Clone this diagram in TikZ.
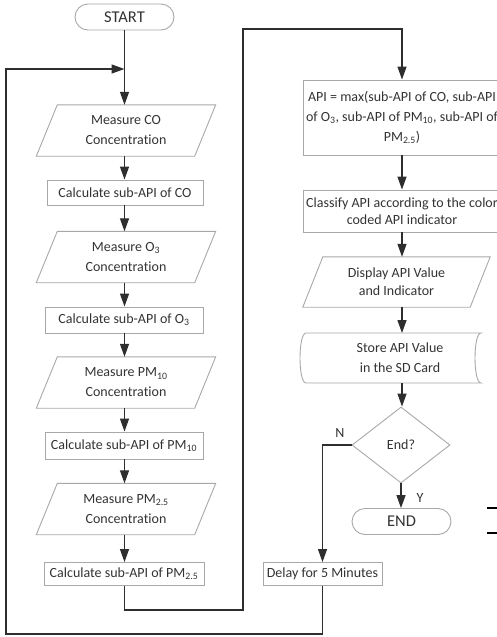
\documentclass[tikz,border=0pt]{standalone}
\usepackage{fontspec}
\setmainfont{Carlito}[Ligatures={CommonOff}]
\usetikzlibrary{arrows.meta,shapes.geometric,calc}

\definecolor{linecol}{HTML}{2E2E2E}
\definecolor{boxcol}{HTML}{A8A8A8}
\definecolor{txtcol}{HTML}{333333}

\newcommand\lowidx[1]{\textsubscript{#1}}
% parallelogram outline around a (borderless) rectangular node
\newcommand\drawio[2]{\draw[boxframe] ([xshift=#2]#1.north west) -- ([xshift=#2]#1.north east)
  -- ([xshift=-#2]#1.south east) -- ([xshift=-#2]#1.south west) -- cycle;}

\begin{document}
\begin{tikzpicture}[x=1pt,y=-1pt,
  every node/.style={text=txtcol, inner sep=0pt, font=\fontsize{14}{20}\selectfont},
  boxframe/.style={draw=boxcol, line width=0.9pt},
  procbox/.style={boxframe, rectangle, align=center, minimum width=#1},
  iobox/.style={rectangle, align=center, minimum width=#1, minimum height=51pt},
  termbox/.style={boxframe, rectangle, rounded corners=13pt, minimum width=99pt, minimum height=26pt, font=\fontsize{16.5}{18}\selectfont},
  flow/.style={draw=linecol, line width=1.3pt, -{Triangle[length=13pt,width=9pt]}},
  tag/.style={font=\fontsize{14}{16}\selectfont}
]
\clip (0,0) rectangle (497,637);

% ---- left column: measurements ----
\node[termbox] (start) at (124.5,17) {START};
\node[iobox=158pt] (mco) at (126,130.5) {Measure CO\\Concentration};
\drawio{mco}{10.5pt}
\node[procbox=156pt, minimum height=25pt] (cco) at (125,192.5) {Calculate sub-API of CO};
\node[iobox=158pt] (mo3) at (126,257) {Measure O\lowidx{3}\\Concentration};
\drawio{mo3}{10.5pt}
\node[procbox=158pt, minimum height=26pt] (co3) at (124,320) {Calculate sub-API of O\lowidx{3}};
\node[iobox=158pt] (mpm10) at (126,382.5) {Measure PM\lowidx{10}\\Concentration};
\drawio{mpm10}{10.5pt}
\node[procbox=158pt, minimum height=27pt] (cpm10) at (124,445.5) {Calculate sub-API of PM\lowidx{10}};
\node[iobox=158pt] (mpm25) at (126,509) {Measure PM\lowidx{2.5}\\Concentration};
\drawio{mpm25}{10.5pt}
\node[procbox=160pt, minimum height=23pt] (cpm25) at (124,574) {Calculate sub-API of PM\lowidx{2.5}};

% ---- right column: evaluation ----
\node[procbox=198pt, minimum height=75pt] (api) at (402,117.5)
  {API = max(sub-API of CO, sub-API\\of O\lowidx{3}, sub-API of PM\lowidx{10}, sub-API of\\PM\lowidx{2.5})};
\node[procbox=198pt, minimum height=42pt, font=\fontsize{14}{17}\selectfont] (cls) at (402,211)
  {Classify API according to the color\\coded API indicator};
\node[iobox=167pt, minimum height=50pt, font=\fontsize{14}{18}\selectfont] (disp) at (396.5,282) {Display API Value\\and Indicator};
\drawio{disp}{10pt}
\node[align=center, font=\fontsize{14}{20}\selectfont] (store) at (400,358) {Store API Value\\in the SD Card};
\draw[boxframe] ($(store.center)+(-94,-25)$) -- ($(store.center)+(81,-25)$)
  .. controls ($(store.center)+(73,-25)$) and ($(store.center)+(73,25)$) .. ($(store.center)+(81,25)$)
  -- ($(store.center)+(-94,25)$)
  .. controls ($(store.center)+(-102,25)$) and ($(store.center)+(-102,-25)$) .. ($(store.center)+(-94,-25)$);
\coordinate (storetop) at ($(store.center)+(0,-25)$);
\coordinate (storebot) at ($(store.center)+(0,25)$);
\node[boxframe, diamond, minimum width=98pt, minimum height=76pt, aspect=1.29] (dec) at (401,445) {End?};
\node[termbox] (end) at (401.5,521.5) {END};
\node[procbox=119pt, minimum height=23pt] (delay) at (322.5,574) {Delay for 5 Minutes};

% ---- connectors ----
\coordinate (lt) at (6,69);
\coordinate (lb) at (6,634);
\coordinate (mb) at (243,610);
\coordinate (mt) at (243,29);

\draw[flow] (start.south) -- (start.south |- mco.north);
\draw[flow] (mco.south -| start.south) -- (start.south |- cco.north);
\draw[flow] (cco.south -| start.south) -- (start.south |- mo3.north);
\draw[flow] (mo3.south -| start.south) -- (start.south |- co3.north);
\draw[flow] (co3.south -| start.south) -- (start.south |- mpm10.north);
\draw[flow] (mpm10.south -| start.south) -- (start.south |- cpm10.north);
\draw[flow] (cpm10.south -| start.south) -- (start.south |- mpm25.north);
\draw[flow] (mpm25.south -| start.south) -- (start.south |- cpm25.north);
\draw[flow] (cpm25.south -| start.south) |- (mb) -- (mt) -| (api.north);

\draw[flow] (api.south) -- (cls.north);
\draw[flow] (cls.south) -- (cls.south |- disp.north);
\draw[flow] (cls.south |- disp.south) -- (cls.south |- storetop);
\draw[flow] (cls.south |- storebot) -- (cls.south |- dec.north);
\draw[flow] (dec.south) -- (dec.south |- end.north);
\draw[flow] (dec.west) -| (delay.north);
\draw[flow] (delay.south) |- (lb) -- (lt) -- (lt -| start.south);

\node[tag] (ntag) at (340,433) {N};
\node[tag] (ytag) at (420,498) {Y};

% short strokes at the right margin
\draw[line width=1.1pt, black] (487,508) -- (497,508);
\draw[line width=1.1pt, black] (487,533) -- (497,533);
\end{tikzpicture}
\end{document}
